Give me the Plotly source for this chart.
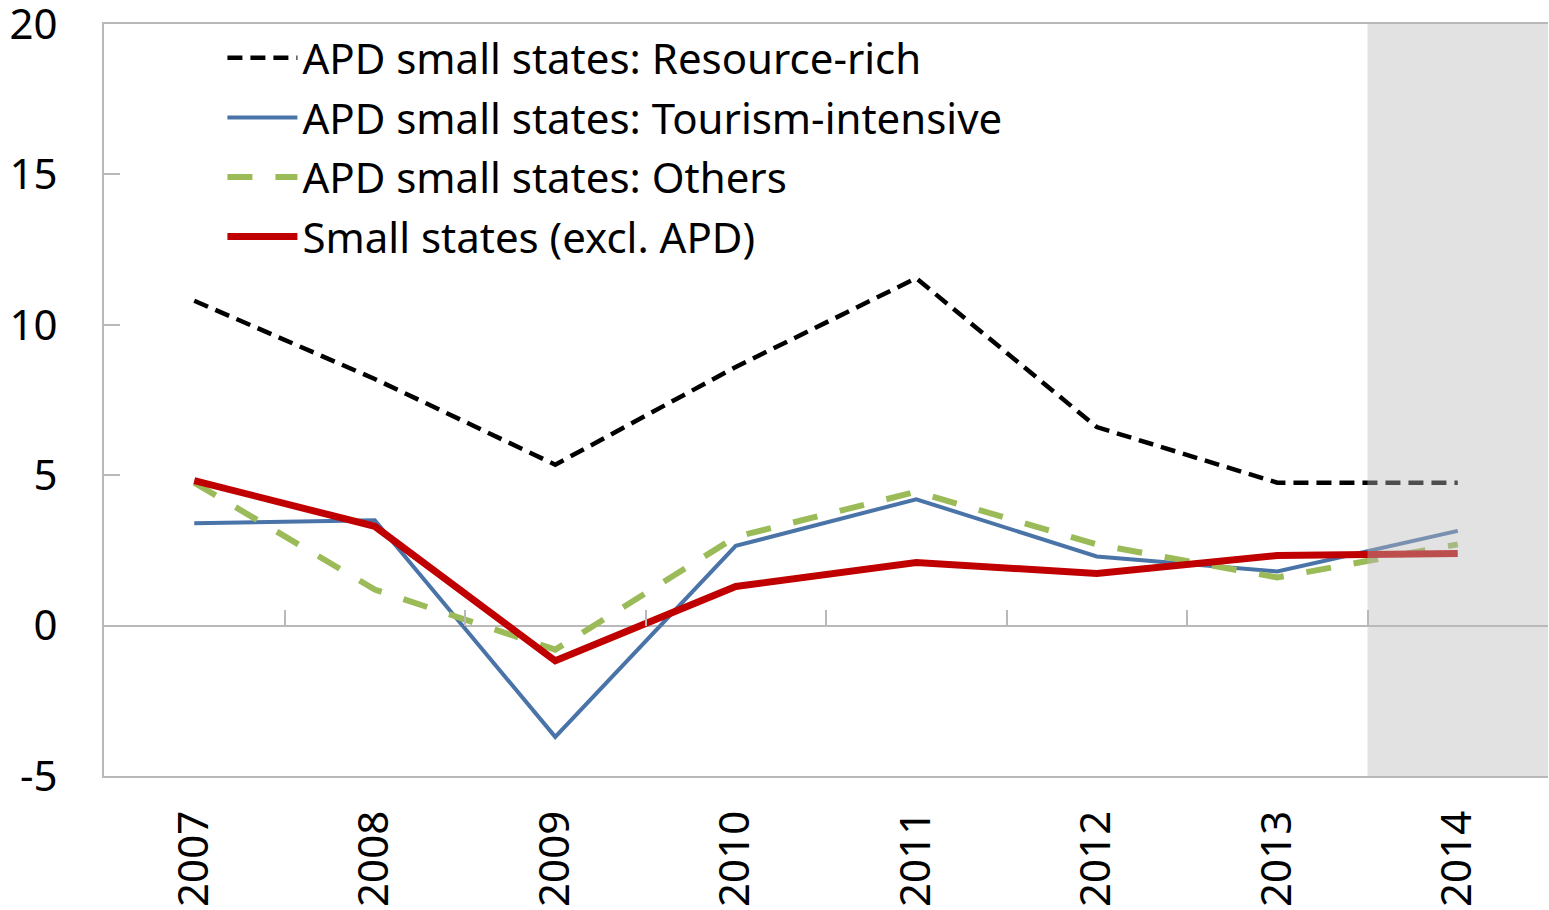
import plotly.graph_objects as go

years = ["2007", "2008", "2009", "2010", "2011", "2012", "2013", "2014"]
resource_rich = [10.8, 8.2, 5.35, 8.6, 11.55, 6.6, 4.75, 4.75]
tourism = [3.4, 3.5, -3.7, 2.65, 4.2, 2.3, 1.8, 3.15]
others = [4.75, 1.2, -0.8, 2.95, 4.45, 2.7, 1.6, 2.7]
small_excl = [4.82, 3.3, -1.17, 1.3, 2.1, 1.73, 2.33, 2.4]

names = ["APD small states: Resource-rich",
         "APD small states: Tourism-intensive",
         "APD small states: Others",
         "Small states (excl. APD)"]

y_ticks = [-5, 0, 5, 10, 15, 20]
y_tick_text = ["-5", "0", "5", "10", "15", "20"]

FONT = "Noto Sans"
AXIS_GRAY = "#b9b9b9"

fig = go.Figure()
fig.add_trace(go.Scatter(x=years, y=resource_rich, name=names[0], mode="lines",
                         legendgroup="a",
                         line=dict(color="#000000", width=4.5, dash="15px,8px")))
fig.add_trace(go.Scatter(x=years, y=tourism, name=names[1], mode="lines",
                         legendgroup="b",
                         line=dict(color="#4a74a8", width=4)))
fig.add_trace(go.Scatter(x=years, y=others, name=names[2], mode="lines",
                         legendgroup="c",
                         line=dict(color="#9bbb59", width=6, dash="25px,23px")))
fig.add_trace(go.Scatter(x=years, y=small_excl, name=names[3], mode="lines",
                         legendgroup="d",
                         line=dict(color="#c00000", width=7)))
# invisible trace carrying the tick axis drawn on the zero line
fig.add_trace(go.Scatter(x=[0.5], y=[0], xaxis="x2", mode="markers",
                         marker=dict(opacity=0), showlegend=False, hoverinfo="skip"))

fig.add_shape(type="rect", xref="x", yref="paper", x0=6.5, x1=7.5, y0=0, y1=1,
              fillcolor="rgb(185,185,185)", opacity=0.42, line=dict(width=0),
              layer="above")

fig.update_layout(
    width=1549, height=910,
    margin=dict(l=104, r=1, t=24, b=134, autoexpand=False),
    paper_bgcolor="white", plot_bgcolor="white",
    font=dict(family=FONT, size=42, color="#000000"),
    showlegend=True,
    legend=dict(x=0.082, y=1.0, xanchor="left", yanchor="top",
                bgcolor="rgba(0,0,0,0)", font=dict(size=42, family=FONT),
                itemwidth=70, tracegroupgap=2, traceorder="grouped"),
    xaxis=dict(type="category", range=[-0.5, 7.5], showgrid=False, zeroline=False,
               showline=True, linecolor=AXIS_GRAY, linewidth=2, mirror=True,
               ticks="", tickangle=-90, ticklabelstandoff=16, automargin=False,
               ticklabeloverflow="allow",
               tickfont=dict(size=42, family=FONT)),
    xaxis2=dict(overlaying="x", anchor="free", position=0.2, side="top",
                range=[-0.5, 7.5], tickvals=[0.5, 1.5, 2.5, 3.5, 4.5, 5.5, 6.5],
                ticks="outside", ticklen=16, tickwidth=2, tickcolor=AXIS_GRAY,
                showticklabels=False, showgrid=False, zeroline=False, showline=False,
                automargin=False),
    yaxis=dict(range=[-5, 20], tickvals=y_ticks, ticktext=y_tick_text, showgrid=False,
               zeroline=True, zerolinecolor=AXIS_GRAY, zerolinewidth=2,
               showline=True, linecolor=AXIS_GRAY, linewidth=2,
               ticks="inside", ticklen=16, tickwidth=2, tickcolor=AXIS_GRAY,
               ticklabelstandoff=36, automargin=False, ticklabeloverflow="allow",
               tickfont=dict(size=42, family=FONT)),
)

fig.write_html("out.html",
               config={"displayModeBar": False},
               post_script="document.body.style.margin='0px';document.body.style.overflow='hidden';")
